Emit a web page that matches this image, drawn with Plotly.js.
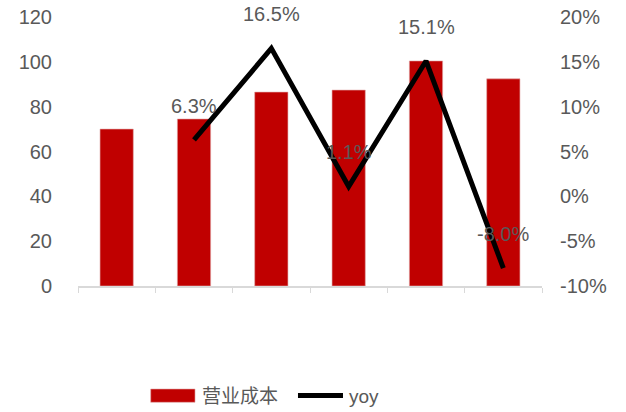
<!DOCTYPE html>
<html>
<head>
<meta charset="utf-8">
<script src="https://cdn.plot.ly/plotly-3.0.1.min.js"></script>
<style>html,body{margin:0;padding:0;background:#fff;}#chart{width:626px;height:412px;}</style>
</head>
<body>
<div id="chart"></div>
<script>
const categories = ['2017年', '2018年', '2019年', '2020年', '2021年', '2022年'];
const cost = [70.0, 74.5, 86.5, 87.4, 100.4, 92.4];
const yoy = [null, 6.3, 16.5, 1.1, 15.1, -8.0];
const yoyLabels = ['', '6.3%', '16.5%', '1.1%', '15.1%', '-8.0%'];
const leftTicks = [0, 20, 40, 60, 80, 100, 120];
const rightTickVals = [-10, -5, 0, 5, 10, 15, 20];
const rightTickText = ['-10%', '-5%', '0%', '5%', '10%', '15%', '20%'];
const seriesNames = ['营业成本', 'yoy'];

const FONT = 'Liberation Sans, Noto Sans CJK SC, sans-serif';
const GREY = '#595959';
const RED = '#C00000';

const traces = [
  {
    type: 'bar', name: seriesNames[0], x: categories, y: cost,
    marker: {color: RED, line: {color: '#e0a8a8', width: 0.6}},
    yaxis: 'y', showlegend: false
  },
  {
    type: 'scatter', mode: 'lines', name: seriesNames[1], x: categories, y: yoy,
    line: {color: '#000000', width: 5}, yaxis: 'y2', connectgaps: false, showlegend: false
  }
];

const annotations = [];
categories.forEach((c, i) => {
  if (yoy[i] === null) return;
  annotations.push({
    x: i, y: yoy[i], xref: 'x', yref: 'y2', text: yoyLabels[i],
    showarrow: false, yshift: 34, font: {family: FONT, size: 20, color: GREY}
  });
});

// custom legend (swatches drawn as paper shapes)
annotations.push({x: 0.2629, y: -0.409, xref: 'paper', yref: 'paper', xanchor: 'left', yanchor: 'middle',
  text: seriesNames[0], showarrow: false, font: {family: FONT, size: 19, color: GREY}});
annotations.push({x: 0.5797, y: -0.409, xref: 'paper', yref: 'paper', xanchor: 'left', yanchor: 'middle',
  text: seriesNames[1], showarrow: false, font: {family: FONT, size: 19, color: GREY}});

const shapes = [
  {type: 'rect', xref: 'paper', yref: 'paper', x0: 0.1567, x1: 0.2522, y0: -0.4323, y1: -0.3829,
   fillcolor: RED, line: {color: '#e0a8a8', width: 0.6}},
  {type: 'line', xref: 'paper', yref: 'paper', x0: 0.4741, x1: 0.5711, y0: -0.4071, y1: -0.4071,
   line: {color: '#000000', width: 5}}
];

const layout = {
  width: 626, height: 412,
  margin: {l: 78, r: 84, t: 17, b: 126, autoexpand: false},
  paper_bgcolor: '#ffffff', plot_bgcolor: '#ffffff',
  font: {family: FONT, color: GREY, size: 20},
  showlegend: false,
  xaxis: {
    type: 'category', range: [-0.5, 5.5], showticklabels: false, showgrid: false,
    showline: true, linecolor: '#d9d9d9', linewidth: 1.5,
    ticks: 'outside', tickson: 'boundaries', ticklen: 5, tickcolor: '#d9d9d9',
    zeroline: false
  },
  yaxis: {
    range: [0, 120], tickvals: leftTicks, showgrid: false, zeroline: false,
    showline: false, ticks: '', ticklabelstandoff: 25,
    tickfont: {family: FONT, size: 20, color: GREY}
  },
  yaxis2: {
    range: [-10, 20], overlaying: 'y', side: 'right', tickvals: rightTickVals,
    ticktext: rightTickText, showgrid: false, zeroline: false, showline: false,
    ticks: '', ticklabelstandoff: 17,
    tickfont: {family: FONT, size: 20, color: GREY}
  },
  annotations: annotations,
  shapes: shapes,
  bargap: 0.57
};

Plotly.newPlot('chart', traces, layout, {displayModeBar: false, staticPlot: true});
</script>
</body>
</html>
